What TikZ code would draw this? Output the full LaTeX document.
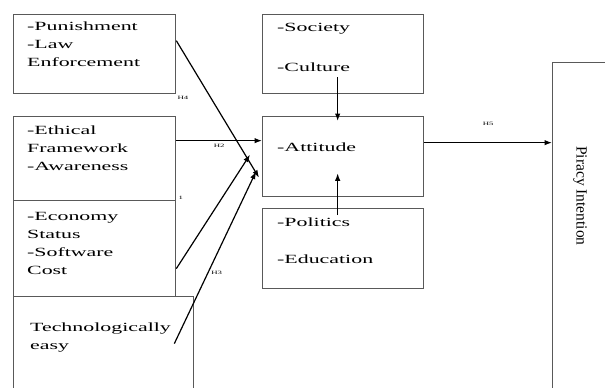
\documentclass[tikz,border=0pt]{standalone}
\usepackage{fontspec}
\setmainfont{Liberation Serif}[FakeStretch=1.75]
\newfontfamily\plainserif{Liberation Serif}
\usetikzlibrary{arrows.meta,calc,positioning}

\begin{document}
\begin{tikzpicture}[>={Latex[length=7.5pt,width=5.5pt]},x=1pt,y=-1pt]
\tikzstyle{factorbox}=[rectangle,draw=black!65,line width=1.3pt,anchor=north west,inner sep=0pt]
\tikzstyle{boxtext}=[anchor=north west,inner sep=0pt,align=left,font=\fontsize{12.5}{18}\selectfont]
\tikzstyle{hlabel}=[inner sep=0pt,font=\fontsize{5}{6}\selectfont]
\tikzstyle{arrow}=[->,line width=1.2pt,black]

\useasboundingbox (0,0) rectangle (605,388);
\clip (0,0) rectangle (605,388);

% --- left factors ---
\node[factorbox,minimum width=162pt,minimum height=79pt] (punish) at (13,14) {};
\node[boxtext] (punishtxt) at ([shift={(14pt,-8pt)}]punish.north west)
  {-Punishment\\-Law\\Enforcement};

\node[factorbox,minimum width=162pt,minimum height=84pt] (ethic) at (13,116) {};
\node[boxtext] (ethictxt) at ([shift={(14pt,-10pt)}]ethic.north west)
  {-Ethical\\Framework\\-Awareness};

\node[factorbox,minimum width=162pt,minimum height=96pt] (econ) at (13,200) {};
\node[boxtext] (econtxt) at ([shift={(14pt,-12pt)}]econ.north west)
  {-Economy\\Status\\-Software\\Cost};

\node[factorbox,minimum width=180pt,minimum height=110pt] (techno) at (13,296) {};
\node[boxtext] (technotxt) at ([shift={(17pt,-27pt)}]techno.north west)
  {Technologically\\easy};

% --- middle column ---
\node[factorbox,minimum width=161pt,minimum height=79pt] (society) at (262,14) {};
\node[boxtext] (societytxt) at ([shift={(15pt,-9pt)}]society.north west)
  {-Society\\[22pt]-Culture};

\node[factorbox,minimum width=161pt,minimum height=80pt] (attitude) at (262,116) {};
\node[boxtext] (attitudetxt) at ([shift={(15pt,-27pt)}]attitude.north west)
  {-Attitude};

\node[factorbox,minimum width=161pt,minimum height=80pt] (politics) at (262,208) {};
\node[boxtext] (politicstxt) at ([shift={(15pt,-10pt)}]politics.north west)
  {-Politics\\[19pt]-Education};

% --- outcome ---
\node[factorbox,minimum width=80pt,minimum height=340pt] (piracy) at (552,62) {};
\node[rotate=-90,inner sep=0pt,font=\plainserif\fontsize{15.5}{18}\selectfont]
  (piracytxt) at (580,196) {Piracy Intention};

% --- hypotheses ---
\draw[arrow] ([yshift=13.5pt]punish.east) -- ([shift={(-3pt,-21pt)}]attitude.west);
\draw[arrow] ([yshift=18pt]ethic.east) -- node[hlabel,below=3pt] (h2) {H2}
  ([yshift=18pt]ethic.east -| attitude.west);
\draw[arrow] ([yshift=-20pt]econ.east) -- ([shift={(-12pt,2pt)}]attitude.west);
\draw[arrow] ([shift={(-20pt,8pt)}]techno.east) -- node[hlabel,pos=0.41,right=3pt] (h3) {H3}
  ([shift={(-6pt,-15pt)}]attitude.west);
\draw[arrow] ([yshift=14pt]attitude.east) -- node[hlabel,above=17pt] (h5) {H5}
  ([yshift=14pt]attitude.east -| piracy.west);
\draw[arrow] ([shift={(-5.5pt,17pt)}]society.south) -- ([shift={(-5.5pt,-5pt)}]attitude.north);
\draw[arrow] ([shift={(-5.5pt,-7pt)}]politics.north) -- ([shift={(-5.5pt,24pt)}]attitude.south);

\node[hlabel,anchor=north west] (h4) at ([shift={(1pt,-2pt)}]punish.south east) {H4};
\node[hlabel,anchor=south west] (h1) at ([shift={(2pt,2pt)}]ethic.south east) {1};

\end{tikzpicture}
\end{document}
